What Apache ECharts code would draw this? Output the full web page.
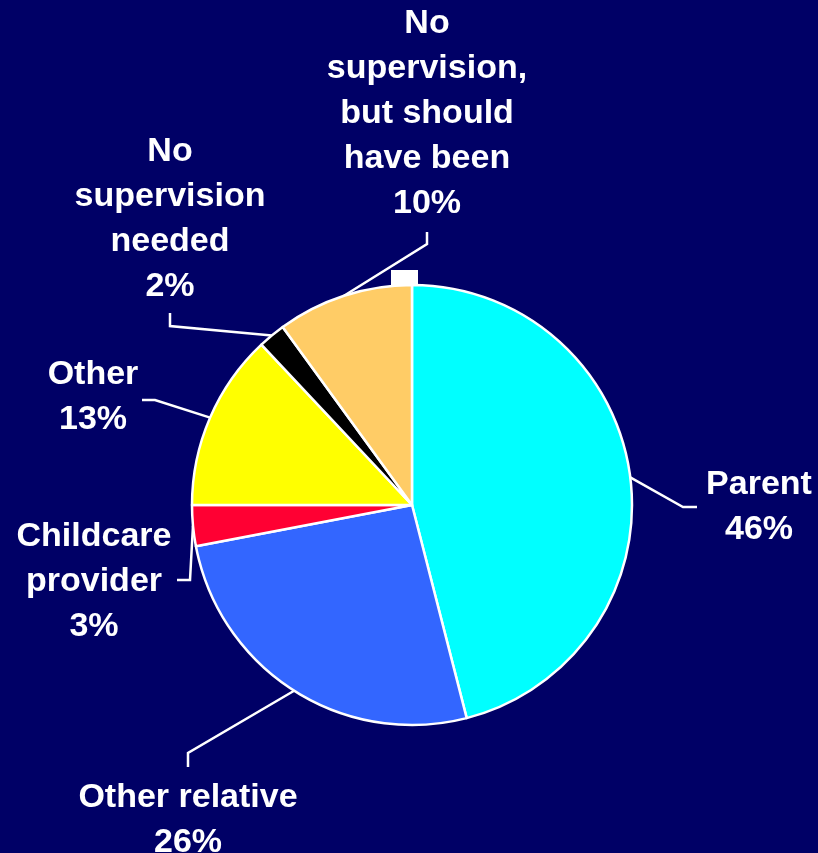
<!DOCTYPE html>
<html>
<head>
<meta charset="utf-8">
<script src="https://cdn.jsdelivr.net/npm/echarts@6/dist/echarts.min.js"></script>
<style>
  html, body { margin: 0; padding: 0; background: #000066; }
  #chart { width: 818px; height: 853px; }
</style>
</head>
<body>
<div id="chart"></div>
<script>
// Who was supervising the child (share of cases, %)
const categories = [
  'Parent',
  'Other relative',
  'Childcare\nprovider',
  'Other',
  'No\nsupervision\nneeded',
  'No\nsupervision,\nbut should\nhave been'
];
const shares = [46, 26, 3, 13, 2, 10];
const sliceColors = ['#00FFFF', '#3366FF', '#FF0033', '#FFFF00', '#000000', '#FFCC66'];

// Label block centres and the two outer points of each leader line
const labelCentres = [
  [759, 507], [188, 820], [94, 582], [93, 397], [170, 219], [427, 114]
];
const leaderPoints = [
  [[683, 507], [697, 507]],
  [[188, 753], [188, 767]],
  [[190, 580], [177, 580]],
  [[155, 400], [142, 400]],
  [[170, 326], [170, 313]],
  [[427, 244], [427, 232]]
];

const chart = echarts.init(document.getElementById('chart'));
chart.setOption({
  backgroundColor: '#000066',
  animation: false,
  graphic: [{
    type: 'rect',
    shape: { x: 391, y: 270, width: 27, height: 17 },
    style: { fill: '#FFFFFF' },
    z: 1
  }],
  series: [{
    type: 'pie',
    center: [412, 505],
    radius: [0, 220],
    startAngle: 90,
    clockwise: true,
    z: 2,
    itemStyle: { borderColor: '#FFFFFF', borderWidth: 2.5 },
    label: {
      show: true,
      position: 'outside',
      formatter: p => p.name + '\n' + p.value + '%',
      color: '#FFFFFF',
      fontFamily: 'Liberation Sans, Arial, sans-serif',
      fontWeight: 'bold',
      fontSize: 34,
      lineHeight: 45,
      align: 'center',
      overflow: 'none'
    },
    labelLine: {
      show: true,
      lineStyle: { color: '#FFFFFF', width: 2.5 }
    },
    labelLayout: function (params) {
      const i = params.dataIndex;
      const start = params.labelLinePoints ? params.labelLinePoints[0] : leaderPoints[i][0];
      return {
        x: labelCentres[i][0],
        y: labelCentres[i][1],
        align: 'center',
        verticalAlign: 'middle',
        labelLinePoints: [start, leaderPoints[i][0], leaderPoints[i][1]]
      };
    },
    emphasis: { disabled: true },
    data: categories.map((name, i) => ({
      name: name,
      value: shares[i],
      itemStyle: { color: sliceColors[i] }
    }))
  }]
});
</script>
</body>
</html>
